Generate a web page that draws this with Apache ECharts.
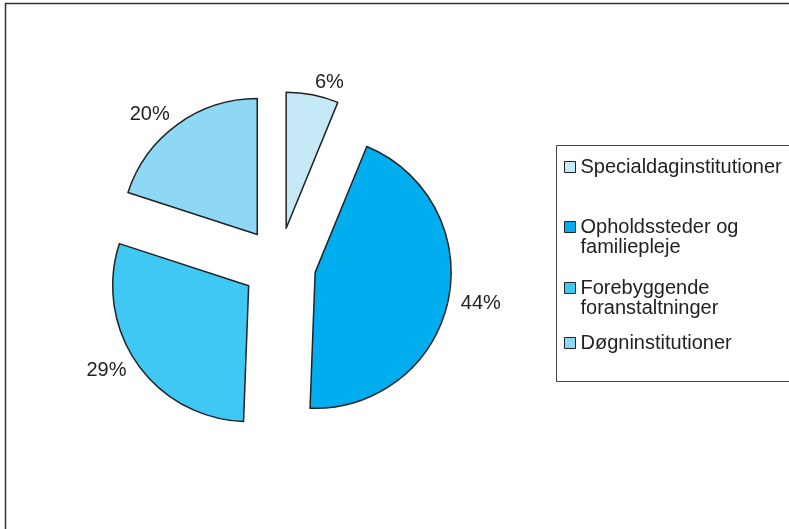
<!DOCTYPE html>
<html>
<head>
<meta charset="utf-8">
<script src="https://cdn.jsdelivr.net/npm/echarts@6/dist/echarts.min.js"></script>
<style>
  html, body { margin: 0; padding: 0; background: #fff; }
  #chart { width: 789px; height: 529px; }
</style>
</head>
<body>
<div id="chart"></div>
<script>
// Data
const categories = ['Specialdaginstitutioner', 'Opholdssteder og familiepleje', 'Forebyggende foranstaltninger', 'Døgninstitutioner'];
const legendLabels = ['Specialdaginstitutioner', 'Opholdssteder og\nfamiliepleje', 'Forebyggende\nforanstaltninger', 'Døgninstitutioner'];
const shares = [6.2, 44.4, 29.4, 20.0];
const sliceColors = ['#c6e9f8', '#00aeef', '#3fc8f4', '#8ed8f6'];

const chart = echarts.init(document.getElementById('chart'), null, { renderer: 'canvas' });

const FONT = 'Liberation Sans, Arial, sans-serif';
const TEXT = '#222';
const LH = 20;

// legend item vertical centres
const legendCenters = [167, 227, 288, 343];
const legends = categories.map((name, i) => {
  const multiLine = legendLabels[i].indexOf('\n') >= 0;
  return {
    show: true,
    data: [name],
    orient: 'vertical',
    left: 564,
    top: multiLine ? legendCenters[i] - 1.5 * LH : legendCenters[i] - LH / 2,
    padding: 0,
    icon: 'rect',
    itemWidth: 11,
    itemHeight: 11,
    selectedMode: false,
    itemStyle: { borderColor: '#222', borderWidth: 1 },
    // a leading blank line keeps the first text line level with the marker
    formatter: () => (multiLine ? ' \n' : '') + legendLabels[i],
    textStyle: {
      fontSize: 20,
      fontFamily: FONT,
      color: TEXT,
      lineHeight: LH
    }
  };
});

const option = {
  animation: false,
  color: sliceColors,
  graphic: [
    { type: 'rect', shape: { x: 5.5, y: 3.5, width: 900, height: 900 }, style: { fill: 'none', stroke: '#333', lineWidth: 1.5 }, silent: true },
    { type: 'rect', shape: { x: 556.5, y: 145.5, width: 300, height: 236 }, style: { fill: '#fff', stroke: '#444', lineWidth: 1 }, silent: true, z: -1 }
  ],
  legend: legends,
  series: [{
    type: 'pie',
    center: [279, 264.5],
    radius: 136,
    startAngle: 90,
    clockwise: true,
    selectedMode: 'multiple',
    selectedOffset: 37,
    avoidLabelOverlap: false,
    emphasis: { disabled: true },
    itemStyle: { borderColor: '#222', borderWidth: 1.5 },
    select: { itemStyle: { borderColor: '#222', borderWidth: 1.5 } },
    label: {
      show: true,
      position: 'outside',
      fontSize: 20,
      fontFamily: FONT,
      color: TEXT,
      distanceToLabelLine: 0,
      formatter: p => Math.round(p.percent) + '%'
    },
    labelLine: { show: false, length: 13, length2: 0 },
    data: categories.map((name, i) => ({ name: name, value: shares[i], selected: true }))
  }]
};

chart.setOption(option);
</script>
</body>
</html>
